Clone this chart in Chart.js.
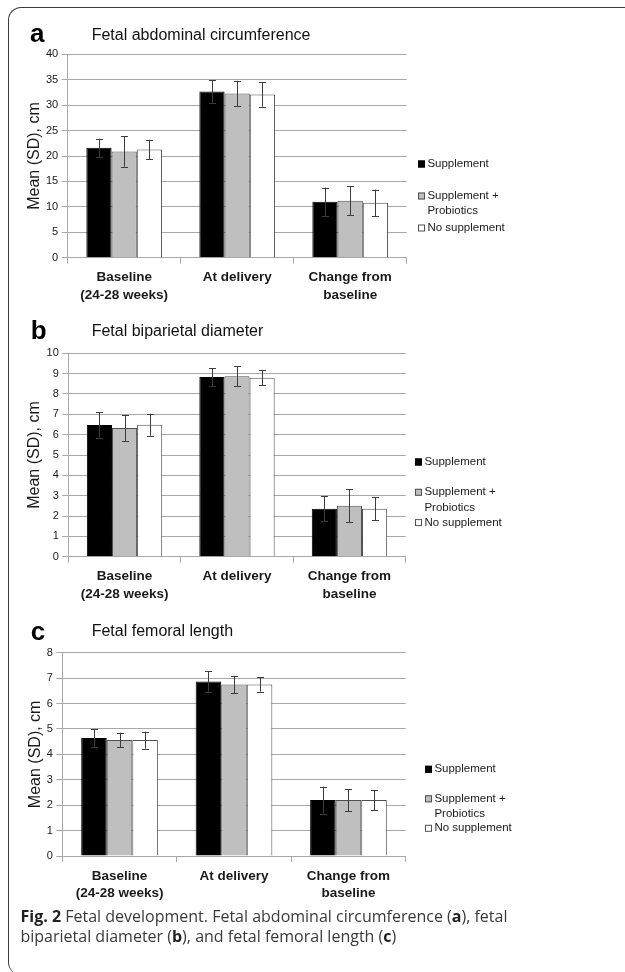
<!DOCTYPE html>
<html><head><meta charset="utf-8">
<script src="https://cdn.jsdelivr.net/npm/chart.js@4/dist/chart.umd.min.js"></script>
<style>
html,body{margin:0;padding:0;background:#fff;width:625px;height:972px;overflow:hidden;position:relative;}
#frame{position:absolute;left:8px;top:7px;width:640px;height:968px;border-left:1.5px solid #3a3a3a;border-top:1.5px solid #3a3a3a;border-radius:13px 0 0 13px;box-sizing:border-box;}
canvas{position:absolute;left:0;}
.letter{position:absolute;font:bold 26px/26px "Liberation Sans",Arial,sans-serif;color:#000;}
.title{position:absolute;font:16px/16px "Liberation Sans",Arial,sans-serif;color:#111;white-space:nowrap;}
#caption{position:absolute;left:20.5px;top:906px;font:16px/20px "Open Sans",sans-serif;color:#3a3a3a;white-space:nowrap;}
#caption b{color:#222;}
</style></head>
<body>
<div id="frame"></div>
<canvas id="ca" width="625" height="330" style="top:0px"></canvas>
<canvas id="cb" width="625" height="330" style="top:300px"></canvas>
<canvas id="cc" width="625" height="330" style="top:600px"></canvas>
<div class="letter" style="left:30px;top:19.7px">a</div>
<div class="title" style="left:91.7px;top:26.5px">Fetal abdominal circumference</div>
<div class="letter" style="left:30.7px;top:317.3px">b</div>
<div class="title" style="left:91.7px;top:323.2px">Fetal biparietal diameter</div>
<div class="letter" style="left:30.7px;top:618px">c</div>
<div class="title" style="left:91.7px;top:622.5px">Fetal femoral length</div>
<div id="caption"><b>Fig. 2</b> Fetal development. Fetal abdominal circumference (<b>a</b>), fetal<br>biparietal diameter (<b>b</b>), and fetal femoral length (<b>c</b>)</div>
<script>
// ---- data ----
const categories = [["Baseline","(24-28 weeks)"], "At delivery", ["Change from","baseline"]];
const seriesNames = ["Supplement", "Supplement + Probiotics", "No supplement"];
const legendLines = [["Supplement"], ["Supplement +", "Probiotics"], ["No supplement"]];
const yAxisTitle = "Mean (SD), cm";

// a: abdominal circumference
const abdSupplement = [21.6, 32.7, 11.0];
const abdSupplementSD = [1.8, 2.2, 2.8];
const abdProbiotics = [20.9, 32.3, 11.2];
const abdProbioticsSD = [3.0, 2.5, 2.9];
const abdNone = [21.3, 32.1, 10.8];
const abdNoneSD = [1.9, 2.4, 2.6];
const abdTicks = [0, 5, 10, 15, 20, 25, 30, 35, 40];

// b: biparietal diameter
const bpdSupplement = [6.48, 8.84, 2.36];
const bpdSupplementSD = [0.62, 0.44, 0.62];
const bpdProbiotics = [6.33, 8.87, 2.51];
const bpdProbioticsSD = [0.64, 0.49, 0.81];
const bpdNone = [6.49, 8.80, 2.36];
const bpdNoneSD = [0.54, 0.37, 0.57];
const bpdTicks = [0, 1, 2, 3, 4, 5, 6, 7, 8, 9, 10];

// c: femoral length
const flSupplement = [4.64, 6.87, 2.20];
const flSupplementSD = [0.36, 0.40, 0.53];
const flProbiotics = [4.56, 6.75, 2.20];
const flProbioticsSD = [0.29, 0.34, 0.43];
const flNone = [4.56, 6.75, 2.20];
const flNoneSD = [0.33, 0.28, 0.40];
const flTicks = [0, 1, 2, 3, 4, 5, 6, 7, 8];

// ---- styles ----
const FAM = '"Liberation Sans", Arial, sans-serif';
const GRID = '#a8a8a8';
const fills = ['#000000', '#bfbfbf', '#ffffff'];
const strokes = ['#000000', '#505050', '#505050'];
const CANVAS_H = 330;
const XAXIS_H = 54;

const errorBarPlugin = {
  id: 'errorBars',
  afterDatasetsDraw(chart) {
    const ctx = chart.ctx, ys = chart.scales.y;
    ctx.save();
    ctx.strokeStyle = '#3c3c3c';
    ctx.lineWidth = 1;
    chart.data.datasets.forEach((ds, i) => {
      const meta = chart.getDatasetMeta(i);
      meta.data.forEach((bar, j) => {
        const v = ds.data[j], sd = ds.sd[j];
        const x = Math.round(bar.x) + 0.5;
        const yt = ys.getPixelForValue(v + sd), yb = ys.getPixelForValue(v - sd);
        ctx.beginPath();
        ctx.moveTo(x, yt); ctx.lineTo(x, yb);
        ctx.moveTo(x - 3.5, Math.round(yt) + 0.5); ctx.lineTo(x + 3.5, Math.round(yt) + 0.5);
        ctx.moveTo(x - 3.5, Math.round(yb) + 0.5); ctx.lineTo(x + 3.5, Math.round(yb) + 0.5);
        ctx.stroke();
      });
    });
    ctx.restore();
  }
};

const sideLegendPlugin = {
  id: 'sideLegend',
  afterDraw(chart, args, o) {
    const ctx = chart.ctx, ca = chart.chartArea;
    ctx.save();
    ctx.font = '11.5px ' + FAM;
    ctx.textBaseline = 'middle';
    ctx.textAlign = 'left';
    let y = ca.top + o.top;
    const x = ca.right + o.left;
    chart.data.datasets.forEach((ds, i) => {
      ctx.fillStyle = ds.backgroundColor;
      ctx.fillRect(x, y - 3.5, 7, 7);
      ctx.strokeStyle = ds.borderColor;
      ctx.lineWidth = 1;
      ctx.strokeRect(x + 0.5, y - 3, 6, 6);
      ctx.fillStyle = '#1a1a1a';
      o.lines[i].forEach((ln, k) => ctx.fillText(ln, x + o.textGap, y + k * o.lineH));
      y += o.gap;
    });
    ctx.restore();
  }
};

function makeChart(id, series, sds, ticks, lay) {
  const datasets = series.map((d, i) => ({
    label: seriesNames[i],
    data: d,
    sd: sds[i],
    backgroundColor: fills[i],
    borderColor: strokes[i],
    borderWidth: 1,
    categoryPercentage: 0.67,
    barPercentage: 1.0
  }));
  return new Chart(document.getElementById(id), {
    type: 'bar',
    data: { labels: categories, datasets },
    plugins: [errorBarPlugin, sideLegendPlugin],
    options: {
      responsive: false,
      animation: false,
      devicePixelRatio: 1,
      layout: { padding: { top: lay.top, left: lay.padLeft, right: 625 - lay.right, bottom: CANVAS_H - lay.bottom - XAXIS_H } },
      plugins: {
        legend: { display: false },
        tooltip: { enabled: false },
        sideLegend: { lines: legendLines, top: lay.legTop, left: lay.legLeft, gap: lay.legGap, lineH: lay.legLineH, textGap: 9.4 }
      },
      scales: {
        x: {
          grid: { display: true, drawOnChartArea: false, drawTicks: true, tickLength: 6, color: GRID, offset: true },
          border: { display: true, color: GRID, width: 1 },
          ticks: { color: '#1a1a1a', padding: 5, font: { family: FAM, size: 13.5, weight: 'bold', lineHeight: 1.31 }, maxRotation: 0, autoSkip: false },
          afterFit(s) { s.height = XAXIS_H; }
        },
        y: {
          min: ticks[0], max: ticks[ticks.length - 1],
          afterBuildTicks(s) { s.ticks = ticks.map(v => ({ value: v })); },
          grid: { color: GRID, lineWidth: 1, tickLength: 6, drawTicks: true },
          border: { display: true, color: GRID, width: 1 },
          ticks: { color: '#1a1a1a', padding: 3.5, font: { family: FAM, size: 11 } },
          title: { display: true, text: yAxisTitle, color: '#1a1a1a', padding: 0, font: { family: FAM, size: 16 } },
          afterFit(s) { s.width = lay.left - lay.padLeft; }
        }
      }
    }
  });
}

makeChart('ca', [abdSupplement, abdProbiotics, abdNone], [abdSupplementSD, abdProbioticsSD, abdNoneSD], abdTicks,
  { top: 54.3, bottom: 257.7, left: 67.7, right: 406.7, padLeft: 25.4, legTop: 109.7, legLeft: 11.3, legGap: 32, legLineH: 15 });
makeChart('cb', [bpdSupplement, bpdProbiotics, bpdNone], [bpdSupplementSD, bpdProbioticsSD, bpdNoneSD], bpdTicks,
  { top: 53.3, bottom: 256.7, left: 68.3, right: 405.7, padLeft: 25.4, legTop: 108.7, legLeft: 9.3, legGap: 30.3, legLineH: 15.3 });
makeChart('cc', [flSupplement, flProbiotics, flNone], [flSupplementSD, flProbioticsSD, flNoneSD], flTicks,
  { top: 52.7, bottom: 256, left: 62.3, right: 405.7, padLeft: 25.9, legTop: 116.6, legLeft: 19.3, legGap: 29.5, legLineH: 15 });
</script>
</body></html>
